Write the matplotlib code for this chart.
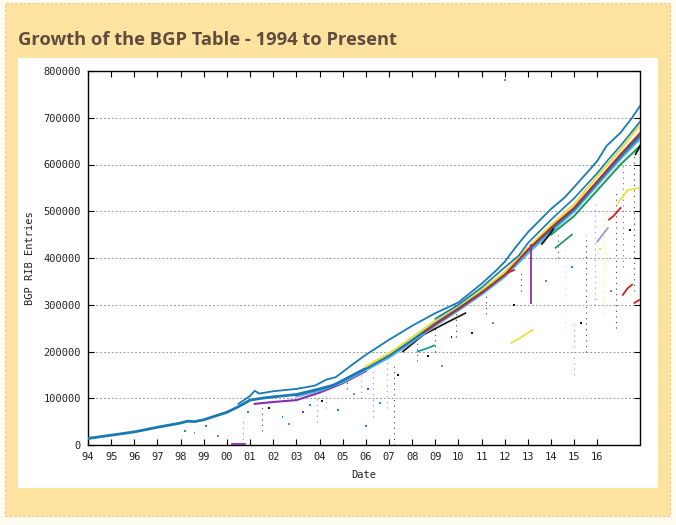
import matplotlib
matplotlib.use("Agg")
import matplotlib.pyplot as plt
from matplotlib.patches import Rectangle

# ---------------- data (values in BGP RIB entries) ----------------
year_ticks = list(range(1994, 2017))
year_labels = ["94", "95", "96", "97", "98", "99", "00", "01", "02", "03", "04", "05",
               "06", "07", "08", "09", "10", "11", "12", "13", "14", "15", "16"]
y_ticks = [0, 100000, 200000, 300000, 400000, 500000, 600000, 700000, 800000]

main_x = [1994.0, 1995.0, 1996.0, 1997.0, 1998.0, 1998.3, 1998.6, 1999.0, 2000.0, 2000.5,
          2001.0, 2001.5, 2002.0, 2003.0, 2004.0, 2004.6, 2005.0, 2006.0, 2007.0, 2008.0,
          2009.0, 2010.0, 2011.0, 2012.0, 2013.0, 2014.0, 2015.0, 2016.0, 2017.0, 2017.85]
main_y = [14000, 21000, 28000, 38000, 47000, 51000, 50000, 54000, 70000, 82000,
          96000, 100000, 103000, 108000, 120000, 128000, 138000, 164000, 192000, 225000,
          260000, 292000, 327000, 365000, 417000, 462000, 505000, 562000, 618000, 662000]

upper_x = [2000.5, 2001.0, 2001.2, 2001.4, 2002.0, 2003.0, 2003.8, 2004.3, 2004.7, 2005.5,
           2006.0, 2007.0, 2008.0, 2009.0, 2010.0, 2011.0, 2011.6, 2012.0, 2012.5, 2013.0,
           2013.6, 2014.0, 2014.6, 2015.0, 2015.6, 2016.0, 2016.4, 2017.0, 2017.5, 2017.85]
upper_y = [88000, 105000, 116000, 110000, 115000, 120000, 127000, 140000, 145000, 175000,
           193000, 225000, 255000, 282000, 305000, 345000, 372000, 392000, 425000, 455000,
           485000, 505000, 530000, 552000, 585000, 608000, 640000, 668000, 700000, 726000]

blue2_x = [2009.0, 2010.0, 2011.0, 2012.0, 2012.6, 2013.0, 2014.0, 2015.0, 2016.0, 2016.5,
           2017.0, 2017.85]
blue2_y = [270000, 300000, 337000, 380000, 405000, 432000, 482000, 528000, 582000, 612000,
           640000, 692000]

lightblue_x = [2003.0, 2004.0, 2005.0, 2006.0, 2007.0, 2008.0, 2009.0, 2010.0, 2011.0,
               2012.0, 2013.0, 2014.0, 2015.0, 2016.0, 2017.0, 2017.85]
lightblue_y = [104000, 116000, 134000, 160000, 187000, 220000, 255000, 288000, 322000,
               360000, 410000, 456000, 500000, 556000, 612000, 655000]

yellow_x = [2006.0, 2007.0, 2008.0, 2009.0, 2010.0, 2011.0, 2012.0, 2013.0, 2014.0,
            2015.0, 2016.0, 2017.0, 2017.85]
yellow_y = [168000, 196000, 230000, 266000, 298000, 332000, 370000, 422000, 470000,
            515000, 575000, 632000, 685000]

red_x = [2008.5, 2009.0, 2010.0, 2011.0, 2012.0, 2013.0, 2014.0, 2015.0, 2016.0,
         2017.0, 2017.85]
red_y = [240000, 258000, 291000, 325000, 364000, 418000, 465000, 508000, 565000,
         622000, 668000]

purple_x = [2001.2, 2002.0, 2003.0, 2004.0, 2005.0, 2006.0]
purple_y = [88000, 92000, 96000, 112000, 132000, 158000]

green_x = [2014.0, 2015.0, 2016.0, 2017.0, 2017.85]
green_y = [450000, 490000, 545000, 600000, 640000]

black_x = [2007.6, 2008.5, 2009.5, 2010.3]
black_y = [200000, 236000, 262000, 282000]

# short fragments: (x list, y list, colour key)
frag_x = [[2012.27, 2012.7, 2013.2], [2008.24, 2008.6, 2008.96], [2014.2, 2014.5, 2014.9],
          [2016.5, 2016.7, 2017.0], [2016.0, 2016.2, 2016.45], [2016.9, 2017.3, 2017.85],
          [2017.1, 2017.3, 2017.5], [2017.6, 2017.8], [2000.2, 2000.8], [2012.1, 2012.4],
          [2013.6, 2013.9, 2014.1], [2017.65, 2017.85], [2013.15, 2013.15]]
frag_y = [[218000, 230000, 246000], [200000, 206000, 213000], [422000, 434000, 450000],
          [482000, 490000, 507000], [435000, 448000, 464000], [518000, 545000, 550000],
          [321000, 335000, 343000], [304000, 310000], [1500, 1500], [368000, 374000],
          [430000, 448000, 462000], [622000, 640000], [428000, 303000]]
frag_c = ["yellow", "teal", "green", "red", "lavender", "yellow", "red", "red",
          "purple", "red", "black", "black", "purple"]

# vertical dotted drops: x, low, high, colour key
drop_x = [2000.7, 2001.5, 2003.9, 2004.3, 2005.2, 2005.8, 2006.3, 2006.9, 2007.2, 2008.2,
          2009.0, 2009.9, 2011.2, 2012.7, 2014.3, 2014.6, 2015.0, 2015.5, 2015.9,
          2016.3, 2016.8, 2017.1, 2017.6]
drop_lo = [0, 30000, 50000, 80000, 120000, 100000, 60000, 80000, 0, 180000,
           200000, 230000, 280000, 330000, 400000, 250000, 150000, 200000, 300000,
           280000, 250000, 380000, 330000]
drop_hi = [60000, 100000, 100000, 110000, 140000, 150000, 160000, 180000, 170000, 225000,
           255000, 285000, 320000, 370000, 450000, 420000, 260000, 450000, 520000,
           500000, 540000, 600000, 620000]
drop_c = ["teal", "black", "teal", "grey", "black", "grey", "teal", "grey", "black", "black",
          "black", "black", "black", "black", "black", "yellow", "grey", "black", "grey",
          "yellow", "black", "red", "black"]

# loose single points
dot_x = [1998.2, 1998.6, 1999.1, 1999.6, 2000.9, 2001.8, 2002.4, 2002.7, 2003.3, 2003.6,
         2004.1, 2004.8, 2005.5, 2006.1, 2006.6, 2007.4, 2008.7, 2009.3, 2010.6, 2011.5,
         2012.4, 2013.8, 2014.9, 2015.3, 2016.1, 2016.6, 2017.4, 2012.0, 2009.7, 2006.0]
dot_y = [30000, 25000, 40000, 20000, 70000, 80000, 60000, 45000, 70000, 85000,
         95000, 75000, 110000, 120000, 90000, 150000, 190000, 170000, 240000, 260000,
         300000, 350000, 380000, 260000, 420000, 330000, 460000, 780000, 230000, 40000]
dot_c = ["teal", "grey", "teal", "grey", "teal", "black", "teal", "grey", "purple", "teal",
         "black", "teal", "grey", "purple", "teal", "black", "black", "grey", "black", "grey",
         "black", "grey", "teal", "black", "yellow", "grey", "black", "grey", "black", "teal"]

colors = {"blue": "#1979b3", "lightblue": "#5aaee0", "yellow": "#e6e045", "red": "#cc2222",
          "purple": "#8a2cb0", "green": "#1f9e62", "black": "#111111", "teal": "#1c9a9a",
          "lavender": "#8aa0d8", "grey": "#7a8a90"}

# ---------------- figure ----------------
W, H = 676, 525
fig = plt.figure(figsize=(W / 100, H / 100), dpi=100)
fig.patch.set_facecolor("#fffdf2")

def px_rect(x0, y0, x1, y1, **kw):
    fig.patches.append(Rectangle((x0 / W, 1 - y1 / H), (x1 - x0) / W, (y1 - y0) / H,
                                 transform=fig.transFigure, zorder=-10, **kw))

px_rect(5, 3, 670, 516, facecolor="#fee2a0", edgecolor="#e8c888", linewidth=0.8,
        linestyle=(0, (2, 2)))
px_rect(18, 58, 658, 488, facecolor="white", edgecolor="none")

fig.text(18 / W, 1 - 45 / H, "Growth of the BGP Table - 1994 to Present",
         fontsize=13.2, fontweight="bold", color="#5e4d3e", family="Open Sans",
         ha="left", va="baseline")

ax = fig.add_axes([88 / W, 1 - 445 / H, (639.5 - 88) / W, (445 - 71) / H])
ax.set_facecolor("white")
ax.set_xlim(1994.0, 2017.82)
ax.set_ylim(0, 800000)

for x, lo, hi, c in zip(drop_x, drop_lo, drop_hi, drop_c):
    ax.plot([x, x], [lo, hi], color=colors[c], lw=0.8, ls=(0, (1, 4)), alpha=0.8, zorder=1)
ax.scatter(dot_x, dot_y, s=2, c=[colors[c] for c in dot_c], marker="s", lw=0, zorder=1)

ax.plot(purple_x, purple_y, color=colors["purple"], lw=1.5, zorder=2)
ax.plot(black_x, black_y, color=colors["black"], lw=1.2, zorder=2)
ax.plot(green_x, green_y, color=colors["green"], lw=1.5, zorder=2)
ax.plot(lightblue_x, lightblue_y, color=colors["lightblue"], lw=1.6, zorder=3)
ax.plot(main_x, main_y, color=colors["blue"], lw=2.0, zorder=3)
ax.plot(yellow_x, yellow_y, color=colors["yellow"], lw=1.6, zorder=3)
ax.plot(red_x, red_y, color=colors["red"], lw=1.2, zorder=4)
ax.plot(blue2_x, blue2_y, color=colors["blue"], lw=1.2, zorder=4)
ax.plot(upper_x, upper_y, color=colors["blue"], lw=1.3, zorder=4)
for fx, fy, c in zip(frag_x, frag_y, frag_c):
    ax.plot(fx, fy, color=colors[c], lw=1.3, zorder=4)

ax.set_xticks(year_ticks)
ax.set_xticklabels(year_labels)
ax.set_yticks(y_ticks)
ax.set_yticklabels([str(v) for v in y_ticks])
ax.tick_params(direction="in", length=4, width=0.8, top=True, right=True,
               labelsize=7.5, labelcolor="#222222", pad=5)
for lab in ax.get_xticklabels() + ax.get_yticklabels():
    lab.set_family("DejaVu Sans Mono")
ax.yaxis.grid(True, color="#9a9a9a", lw=0.7, ls=(0, (2, 2)))
ax.set_axisbelow(True)
for s in ax.spines.values():
    s.set_linewidth(1.0)
    s.set_color("black")

ax.set_ylabel("BGP RIB Entries", family="DejaVu Sans Mono", fontsize=7.5, color="#222222",
              labelpad=6)
ax.set_xlabel("Date", family="DejaVu Sans Mono", fontsize=7.5, color="#222222", labelpad=6)

fig.savefig("out.png", dpi=100, facecolor=fig.get_facecolor())
